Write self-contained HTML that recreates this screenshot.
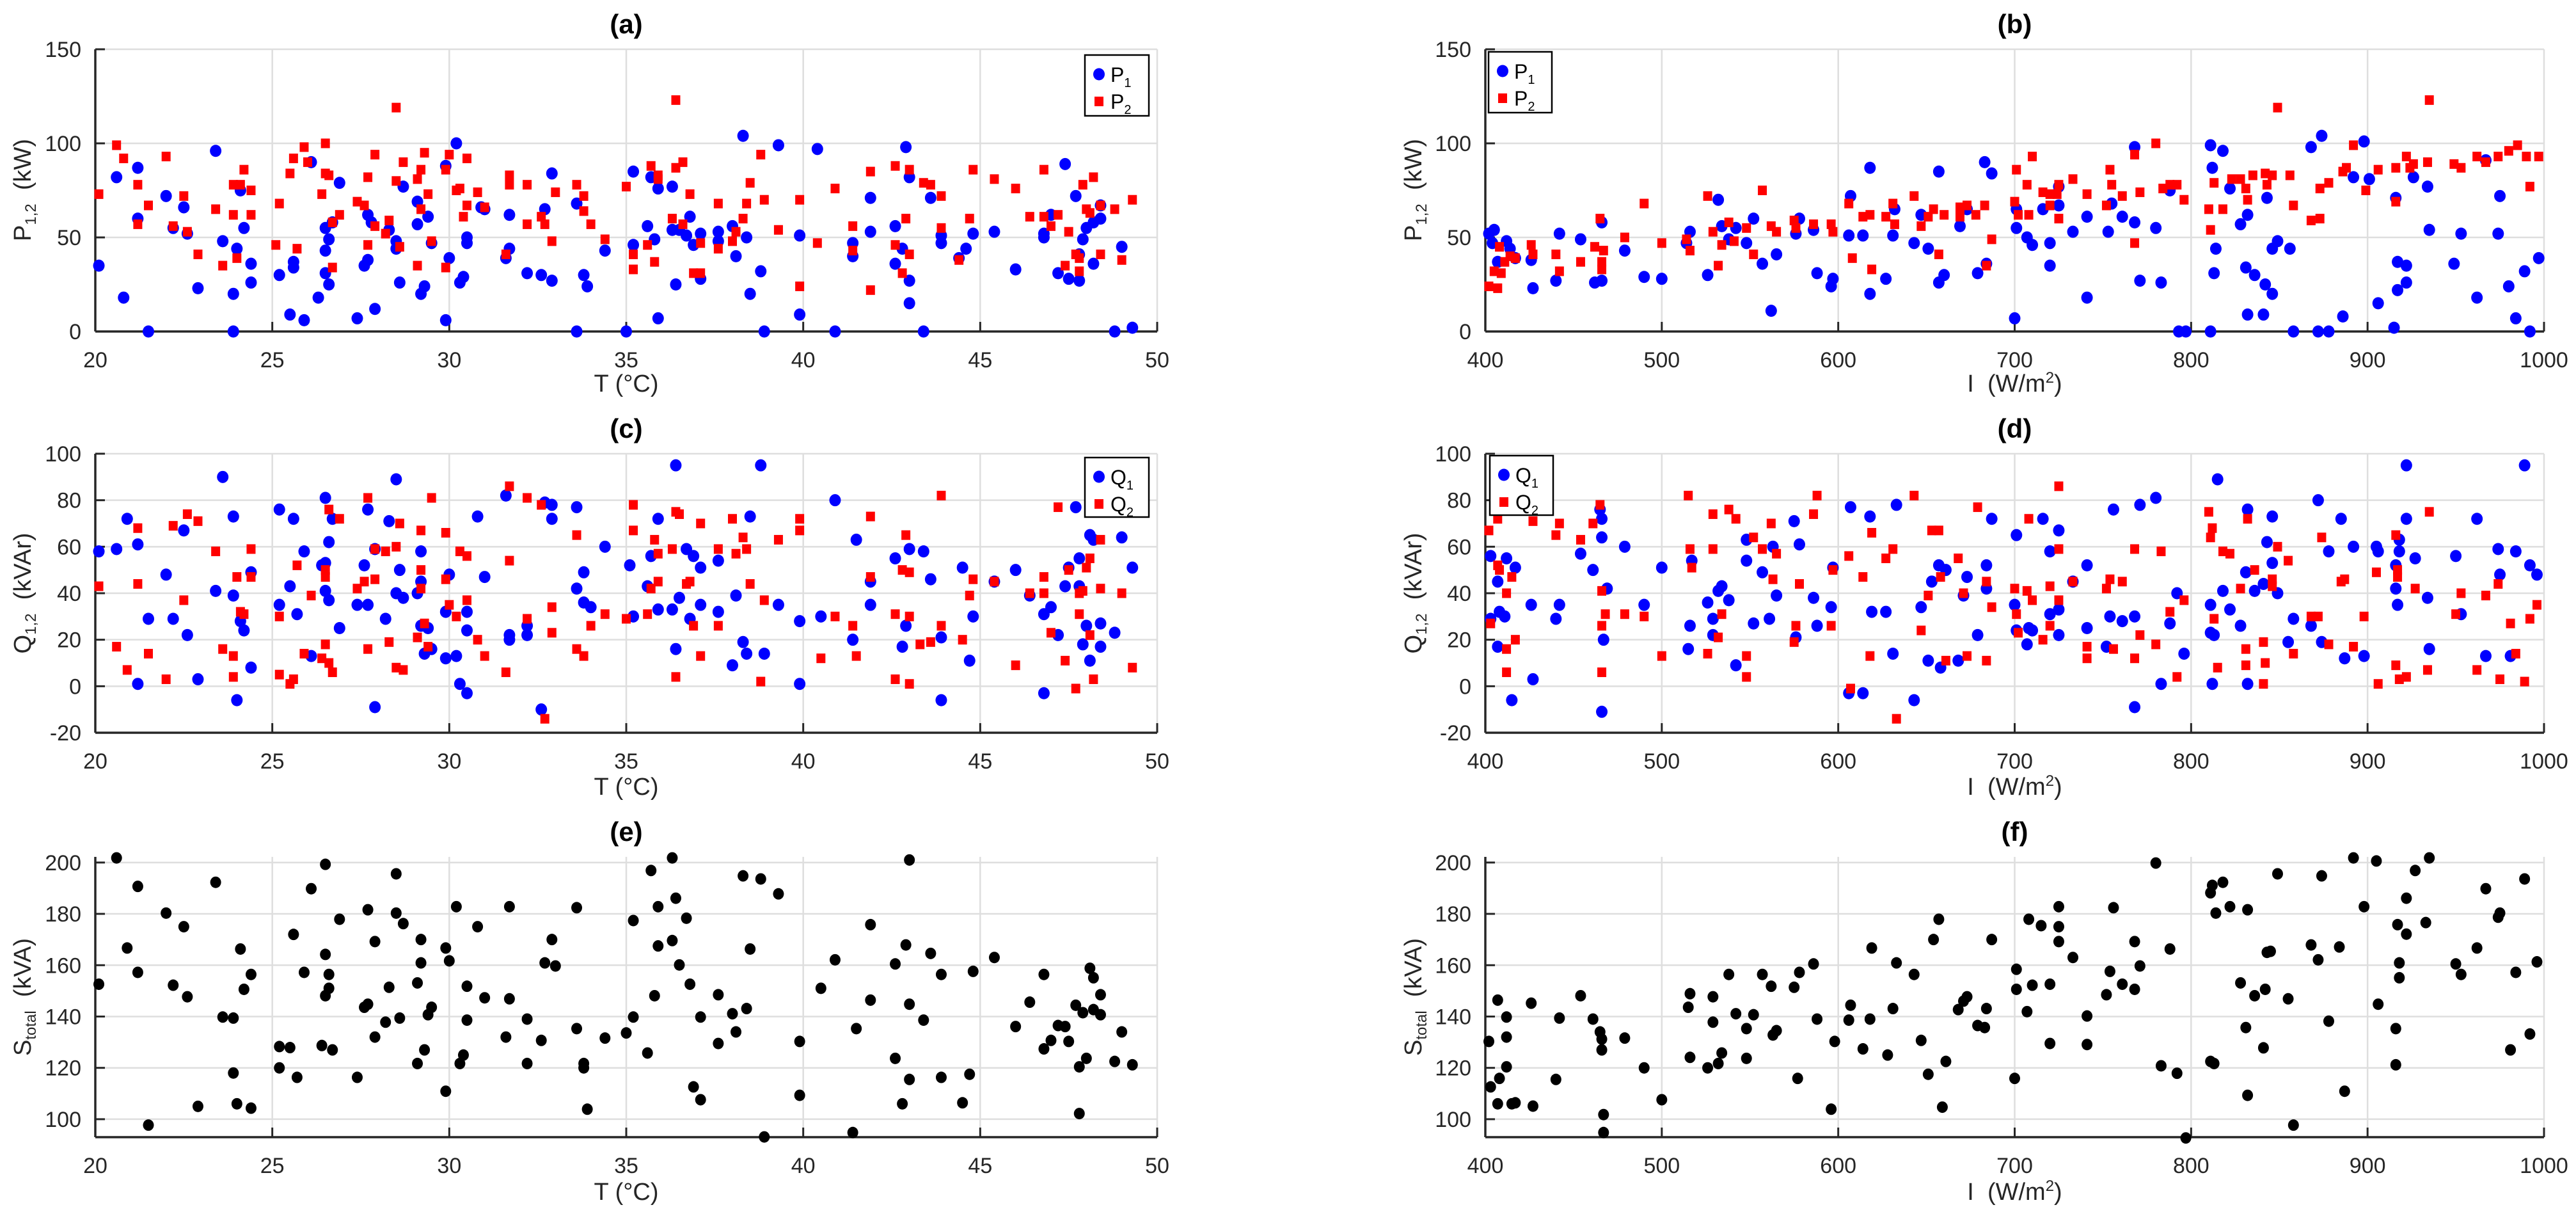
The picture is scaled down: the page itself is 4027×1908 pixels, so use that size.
<!DOCTYPE html>
<html><head><meta charset="utf-8"><style>
html,body{margin:0;padding:0;background:#fff;}
svg{display:block;font-family:"Liberation Sans",sans-serif;}
</style></head><body>
<svg id="fig" width="4027" height="1908" viewBox="0 0 4027 1908" xmlns="http://www.w3.org/2000/svg"></svg>
<script>
// ---- Panel (a): P vs T ----
const aP1T=[20.6,21.2,20.8,20.1,21.5,21.2,22.0,22.2,22.6,22.5,23.4,22.9,23.6,24.0,23.9,24.1,24.2,24.4,24.4,23.9,25.2,25.5,25.9,25.6,25.6,26.1,26.3,26.5,26.5,26.6,26.6,26.5,26.7,26.9,27.4,27.6,27.7,27.7,27.9,27.8,28.3,28.5,28.5,28.6,28.7,29.1,29.1,29.3,29.2,29.4,29.5,29.9,29.9,30.2,30.0,30.3,30.4,30.5,30.5,30.9,31.0,31.7,31.7,31.6,32.2,32.6,32.9,32.7,32.9,33.6,33.6,33.8,33.9,34.4,35.0,35.2,35.2,35.6,35.7,35.8,35.9,35.9,36.3,36.3,36.5,36.7,36.8,36.9,37.1,37.1,36.4,37.6,37.6,38.0,38.1,38.3,38.4,38.5,38.8,38.9,39.3,39.9,39.9,40.4,40.9,41.4,41.4,41.9,41.9,42.6,42.6,42.8,42.9,43.0,43.0,43.0,43.4,43.6,43.9,43.9,44.6,44.4,44.8,45.4,46.0,46.8,46.8,47.0,47.2,47.4,47.5,47.8,47.7,47.8,47.9,48.0,48.2,48.4,48.4,48.2,48.8,49.0,49.3];
const aP1V=[82,87,18,35,0,60,72,55,52,66,96,23,48,44,0,75,55,36,26,20,30,9,6,37,34,90,18,43,55,49,25,31,58,79,7,35,38,62,12,58,54,48,44,26,77,69,57,24,20,61,47,88,6,100,39,26,29,50,47,66,65,62,44,39,31,30,84,65,27,68,0,30,24,43,0,85,46,56,82,49,76,7,77,54,54,51,61,46,28,52,25,53,48,56,40,104,50,20,32,0,99,51,9,97,0,47,40,71,53,56,36,44,98,82,27,15,0,71,51,47,44,39,52,53,33,52,50,62,31,89,28,27,72,41,49,55,58,60,67,36,0,45,2];
const aP2T=[20.1,20.6,20.8,21.2,21.2,21.5,22.0,22.2,22.5,22.6,22.9,23.4,23.6,23.9,23.9,24.0,24.1,24.2,24.4,24.4,25.1,25.2,25.5,25.6,25.7,25.9,26.0,26.4,26.5,26.5,26.6,26.7,26.7,26.9,27.4,27.6,27.7,27.7,27.9,27.9,28.2,28.3,28.5,28.5,28.6,28.7,29.1,29.1,29.2,29.2,29.3,29.4,29.5,29.9,29.9,30.0,30.2,30.3,30.4,30.5,30.5,30.8,31.0,31.6,31.7,31.7,32.2,32.2,32.6,32.7,32.9,33.0,33.6,33.8,33.8,34.0,34.4,35.0,35.2,35.2,35.6,35.7,35.8,35.9,35.9,36.4,36.4,36.6,36.3,36.6,36.8,36.9,37.1,37.1,37.6,37.6,38.0,38.1,38.3,38.4,38.5,38.8,38.9,39.3,39.9,39.9,40.4,40.9,41.4,41.4,41.9,41.9,42.6,42.6,42.8,42.9,43.0,43.0,43.4,43.6,43.9,43.9,44.4,44.7,44.8,45.4,46.0,46.4,46.8,46.8,47.0,47.2,47.4,47.5,47.8,47.7,47.8,47.9,48.0,48.1,48.2,48.4,48.4,48.8,49.0,49.3];
const aP2V=[73,99,92,78,57,67,93,56,72,53,41,65,35,62,78,39,78,86,75,62,46,68,84,92,44,98,90,73,100,84,83,34,58,62,69,67,82,46,94,56,52,59,119,80,45,90,81,35,65,86,95,73,48,34,86,94,75,76,61,92,67,74,66,41,83,78,78,57,61,57,48,74,78,72,64,57,49,77,41,33,46,88,37,83,81,123,87,90,60,57,73,31,31,47,68,44,48,53,60,68,79,94,70,54,70,24,47,76,56,43,85,22,88,46,31,60,41,86,79,78,55,72,38,60,86,81,76,61,61,86,56,62,35,53,32,41,39,78,65,63,82,67,41,65,38,70];
// ---- Panel (b): P vs I ----
const bP1I=[402,405,404,412,414,407,417,426,427,440,442,454,462,466,466,479,490,500,514,516,526,532,534,538,542,548,552,557,562,565,576,578,586,588,596,597,606,607,614,618,618,627,631,632,643,647,651,657,660,657,669,673,679,683,684,687,700,701,701,707,710,716,720,720,725,725,733,741,741,753,755,761,768,768,771,780,783,788,793,797,811,811,812,813,814,818,822,828,831,832,832,836,841,842,843,846,846,849,856,858,868,872,874,878,886,892,898,901,906,915,916,917,917,922,922,926,934,935,949,953,962,967,974,975,980,984,989,992,997];
const bP1V=[52,54,47,48,44,37,39,38,23,27,52,49,26,27,58,43,29,28,47,53,30,70,56,49,55,47,60,36,11,41,52,60,54,31,24,28,51,72,51,20,87,28,51,65,47,62,44,26,30,85,56,65,31,90,36,84,7,55,65,50,46,65,47,35,67,77,53,61,18,53,68,61,58,98,27,55,26,75,0,0,99,0,87,31,44,96,76,57,34,62,9,30,9,25,71,44,20,48,44,0,98,0,104,0,8,82,101,81,15,2,71,22,37,35,26,82,77,54,36,52,18,91,52,72,24,7,32,0,39];
const bP2I=[402,407,405,409,411,408,414,417,426,427,440,442,454,462,465,466,466,467,479,490,500,514,516,526,529,532,534,538,541,548,552,557,562,565,575,576,586,596,597,606,608,614,618,619,627,631,632,643,647,651,654,657,660,669,669,673,678,683,684,687,700,701,702,707,708,710,716,720,720,724,725,725,733,741,752,754,755,761,768,768,771,780,784,788,792,796,810,811,813,818,823,828,831,832,835,842,843,846,849,856,858,868,873,873,878,886,888,892,899,906,916,916,922,924,926,934,935,949,953,962,967,974,980,985,990,992,997];
const bP2V=[24,23,32,31,37,45,40,39,46,41,41,32,37,45,60,33,37,43,50,68,47,49,43,72,53,35,46,58,48,55,41,75,56,53,59,55,57,57,53,68,39,61,62,33,61,68,57,72,56,61,65,41,62,66,61,67,62,67,35,49,69,86,62,78,62,93,74,73,67,73,60,78,81,73,67,86,78,72,94,47,74,100,76,78,78,70,65,54,79,65,81,81,76,70,83,84,78,83,119,83,67,59,60,76,79,85,87,99,75,86,69,87,93,87,89,90,123,89,87,93,90,93,96,99,93,77,93];
// ---- Panel (c): Q vs T ----
const cQ1T=[20.1,20.6,20.9,21.2,21.2,21.5,22.0,22.2,22.5,22.6,22.9,23.4,23.6,23.9,23.9,24.0,24.1,24.2,24.4,24.4,25.2,25.2,25.5,25.6,25.7,25.9,26.1,26.4,26.5,26.5,26.5,26.6,26.6,26.7,26.9,27.4,27.6,27.7,27.7,27.9,27.9,28.2,28.3,28.5,28.5,28.6,28.7,29.1,29.2,29.2,29.2,29.4,29.3,29.5,29.9,29.9,30.0,30.2,30.3,30.5,30.5,30.5,30.8,31.0,31.6,31.7,31.7,32.2,32.2,32.6,32.7,32.9,32.9,33.6,33.6,33.8,33.8,34.0,34.4,35.1,35.2,35.6,35.7,35.9,35.9,36.3,36.4,36.4,36.5,36.7,36.8,36.9,37.1,37.1,37.6,37.6,38.0,38.1,38.3,38.4,38.5,38.8,38.9,39.3,39.9,39.9,40.5,40.9,41.4,41.5,41.9,41.9,42.6,42.8,42.9,43.0,43.4,43.6,43.9,43.9,44.5,44.7,44.8,45.4,46.0,46.4,46.8,46.8,47.0,47.2,47.4,47.5,47.7,47.8,47.8,47.9,48.0,48.1,48.1,48.2,48.4,48.4,48.8,49.0,49.3];
const cQ1V=[58,59,72,61,1,29,48,29,67,22,3,41,90,73,39,-6,28,24,49,8,76,35,43,72,31,58,13,52,81,53,41,62,37,72,25,35,52,35,76,59,-9,29,71,89,40,50,38,40,45,58,26,25,14,16,32,12,48,13,1,32,-3,24,73,47,82,22,20,22,26,-10,79,78,72,77,42,49,36,34,60,52,30,43,56,72,33,33,16,95,38,59,29,56,51,35,54,32,9,39,19,14,73,95,14,35,1,28,30,80,20,63,35,45,55,17,26,59,58,46,21,-6,51,11,30,45,50,39,31,-3,34,22,43,51,77,43,55,18,26,65,11,63,17,27,23,64,51];
const cQ2T=[20.1,20.6,20.9,21.2,21.2,21.5,22.0,22.2,22.5,22.6,22.9,23.4,23.6,23.9,23.9,24.0,24.1,24.2,24.4,24.4,25.2,25.2,25.5,25.6,25.7,25.9,26.1,26.4,26.5,26.5,26.5,26.6,26.6,26.7,26.9,27.4,27.6,27.7,27.7,27.9,27.9,28.2,28.3,28.5,28.5,28.6,28.7,29.1,29.2,29.2,29.2,29.3,29.4,29.5,29.9,29.9,30.0,30.2,30.3,30.5,30.5,30.8,31.0,31.6,31.7,31.7,32.2,32.2,32.6,32.7,32.9,32.9,33.6,33.6,33.8,34.0,34.4,35.0,35.2,35.2,35.6,35.7,35.8,35.9,35.9,36.3,36.4,36.4,36.5,36.7,36.8,36.9,37.1,37.1,37.6,37.6,38.0,38.1,38.3,38.4,38.5,38.8,38.9,39.3,39.9,39.9,40.5,40.9,41.4,41.5,41.9,41.9,42.6,42.6,42.8,42.9,43.0,43.0,43.0,43.3,43.6,43.9,43.9,44.5,44.7,44.8,45.4,46.0,46.4,46.8,46.8,47.0,47.2,47.4,47.5,47.7,47.8,47.8,47.9,48.0,48.1,48.1,48.2,48.4,48.4,49.0,49.3];
const cQ2V=[43,17,7,68,44,14,3,69,37,74,71,58,16,13,4,47,32,31,59,47,5,30,1,3,52,14,39,12,50,47,18,76,10,6,72,42,45,81,16,46,59,58,19,8,60,70,7,21,42,67,50,27,17,81,66,46,35,30,58,56,37,20,13,6,54,86,29,81,78,-14,23,34,16,65,13,26,31,29,78,67,31,42,63,45,57,59,75,4,74,44,45,26,13,70,59,26,72,57,64,59,44,2,37,63,72,67,12,30,26,13,47,73,3,31,50,65,30,49,1,18,19,26,82,20,39,46,45,9,40,40,47,23,77,11,50,-1,31,40,41,51,22,55,3,42,63,40,8];
// ---- Panel (d): Q vs I ----
const dQ1I=[403,407,412,417,408,411,403,407,415,426,427,440,442,454,461,465,466,466,469,467,466,479,490,500,515,516,517,526,529,529,532,534,538,542,548,548,552,557,561,563,565,575,576,578,586,588,596,597,606,607,614,618,619,627,631,633,643,647,651,653,657,658,661,668,671,673,679,684,684,687,700,701,701,707,708,710,716,720,720,725,725,725,733,741,741,752,754,756,761,768,768,771,780,783,788,792,796,811,811,812,813,815,818,822,828,831,832,832,836,841,843,846,846,849,855,858,868,872,874,878,885,887,892,898,905,906,916,916,917,918,918,922,922,927,934,935,950,953,962,967,974,975,981,984,989,992,996];
const dQ1V=[56,45,55,51,32,30,29,17,-6,35,3,29,35,57,50,76,72,64,42,20,-11,60,35,51,16,26,54,36,29,22,41,43,37,9,54,63,27,49,29,60,39,71,21,61,38,26,34,51,-3,77,-3,73,32,32,14,78,-6,34,11,45,52,8,50,11,39,47,22,52,42,72,35,65,24,18,25,24,72,58,31,67,33,22,45,52,25,17,30,76,28,-9,30,78,81,1,27,40,14,35,23,1,22,89,41,33,26,49,76,1,41,44,62,53,73,40,19,29,26,80,19,58,72,12,60,13,60,58,52,42,35,63,58,95,72,55,38,16,56,31,72,13,59,48,13,58,95,52,48];
const dQ2I=[402,403,407,408,407,412,412,412,415,417,427,440,442,454,461,465,466,466,466,468,479,490,500,515,516,517,526,529,529,532,534,538,542,548,548,552,557,562,563,565,575,576,578,586,588,596,597,606,607,614,618,619,627,631,633,643,647,651,653,657,658,661,668,671,673,679,684,684,687,700,701,702,707,708,710,716,720,720,725,725,725,733,741,741,752,754,756,761,768,768,771,780,783,788,792,796,810,812,811,813,815,818,822,828,831,831,832,836,841,842,841,846,846,849,855,858,868,872,874,878,885,887,892,898,905,906,916,916,917,917,918,922,927,934,935,950,953,962,967,974,975,981,984,992,989,996];
const dQ2V=[67,27,52,50,72,40,16,6,47,20,71,65,70,63,70,78,41,26,6,31,31,30,13,82,59,51,14,74,59,21,31,76,72,13,4,64,59,70,46,57,19,26,44,74,82,26,50,56,-1,47,13,66,55,59,-14,82,24,39,67,67,47,11,55,40,13,77,45,11,34,42,31,23,41,72,37,20,43,26,86,59,37,45,17,12,42,46,16,45,59,12,22,18,58,32,4,37,75,68,64,29,8,58,57,42,16,9,72,50,19,10,1,46,43,60,54,14,30,30,64,18,45,46,17,30,49,1,65,9,50,47,3,4,42,7,75,31,40,7,39,44,3,27,14,29,2,35];
// ---- Panel (e): S vs T ----
const eST=[20.6,21.2,20.9,21.2,20.1,22.0,22.5,22.2,22.6,21.5,22.9,23.4,23.6,23.9,23.9,24.0,24.1,24.2,24.4,24.4,25.2,25.2,25.5,25.6,25.7,25.9,26.1,26.4,26.5,26.5,26.5,26.6,26.6,26.7,26.9,27.4,27.6,27.7,27.7,27.9,27.9,28.2,28.3,28.5,28.5,28.6,28.7,29.1,29.2,29.2,29.1,29.3,29.4,29.5,29.9,29.9,30.0,30.2,30.3,30.4,30.5,30.5,30.8,31.0,31.6,31.7,31.7,32.2,32.2,32.6,32.7,32.9,33.0,33.6,33.6,33.8,33.8,33.9,34.4,35.0,35.2,35.2,35.6,35.7,35.8,35.9,35.9,36.3,36.3,36.4,36.5,36.7,36.8,36.9,37.1,37.1,37.6,37.6,38.0,38.1,38.3,38.4,38.5,38.8,38.9,39.3,39.9,39.9,40.5,40.9,41.4,41.5,41.9,41.9,42.6,42.6,42.8,42.9,43.0,43.0,43.0,43.4,43.6,43.9,43.9,44.5,44.7,44.8,45.4,46.0,46.4,46.8,46.8,47.0,47.2,47.4,47.5,47.7,47.8,47.8,47.9,48.0,48.1,48.2,48.2,48.4,48.4,48.8,49.0,49.3];
const eSV=[201.8,190.7,166.7,157.2,152.6,180.3,175,152.2,147.7,97.7,105,192.3,139.8,139.4,118,106,166.3,150.6,156.4,104.3,128.3,120,127.9,172,116.3,157.2,189.8,128.7,199.3,164.2,148.1,156.4,151,127,177.9,116.3,143.6,144.8,181.6,169.2,132,137.8,151.4,195.6,180.3,139.4,176.2,153.1,170,160.9,121.7,127,140.7,143.6,166.7,110.9,161.7,182.8,121.7,125,151.8,138.6,175,147.3,132,182.8,146.9,121.7,139,130.7,160.9,170,159.7,182.4,135.3,121.7,120,103.9,131.6,133.6,177.4,139.8,125.8,196.9,148.1,182.8,167.5,169.6,201.8,186.1,160.1,178.3,152.6,112.6,107.6,139.8,148.5,129.5,141.1,134,194.8,143.1,166.3,193.6,93.1,187.8,109.3,130.3,151,162.1,94.8,135.3,175.8,146.4,160.5,123.7,106,167.9,115.5,201,144.8,138.6,164.6,116.3,156.4,106.4,117.5,157.6,163,136.1,145.6,156.4,127.4,130.7,136.5,136.1,130.3,144.4,120.4,102.2,141.5,123.7,158.8,142.7,155.1,140.7,148.5,122.5,134,121.2];
// ---- Panel (f): S vs I ----
const fSI=[402,403,407,407,408,412,412,412,415,417,426,427,440,442,454,461,465,466,466,467,467,479,490,500,515,516,516,526,529,529,532,534,538,542,548,548,552,557,562,563,565,575,577,578,586,588,596,598,606,607,614,618,619,628,631,633,643,647,651,654,657,659,661,668,671,673,679,683,684,687,700,701,701,707,708,710,715,720,720,725,725,725,733,741,741,752,754,756,761,768,768,771,780,783,788,792,797,811,811,812,813,814,818,822,828,831,832,832,836,841,842,843,845,849,855,858,868,872,874,878,884,887,892,898,905,906,916,916,917,918,918,922,922,927,933,935,950,953,962,967,974,975,981,984,989,992,996];
const fSV=[130.3,112.6,146.4,106,115.9,139.8,132,120.4,106,106.4,145.2,105.1,115.5,139.4,148.1,139,134,131.2,127,101.8,94.8,131.6,120,107.6,143.6,148.9,124.1,120,147.7,137.8,121.7,125.8,156.4,141.1,123.7,135.3,140.7,156.4,151.8,132.8,134.5,151.4,115.9,157.2,160.5,139,103.9,130.3,138.6,144.4,127.4,139,166.7,125,143.1,160.9,156.4,130.7,117.5,170,177.9,104.7,122.5,142.7,146,147.7,136.5,135.7,143.1,170,115.9,150.6,158.4,141.9,177.9,152.2,175.4,152.6,129.5,182.8,175,169.2,163,140.2,129.1,148.5,157.6,182.4,152.6,150.6,169.2,159.7,199.8,120.8,166.3,117.9,92.7,188.2,122.5,191.1,121.7,180.3,192.3,182.8,153.1,135.7,181.6,109.3,148.1,127.8,150.6,165,165.4,195.6,146.9,97.7,167.9,162.1,194.8,138.2,167.1,110.9,201.8,182.8,200.6,144.8,135.3,121.2,175.8,160.9,155.1,186.1,172.1,196.9,176.6,201.8,160.5,156.4,166.7,189.8,178.7,180.3,127,157.2,193.6,133.2,161.3];
// tick label arrays
const tTicks=[20,25,30,35,40,45,50];
const iTicks=[400,500,600,700,800,900,1000];
const pTicks=[0,50,100,150];
const qTicks=[-20,0,20,40,60,80,100];
const sTicks=[100,120,140,160,180,200];

const NS="http://www.w3.org/2000/svg";
const svg=document.getElementById('fig');
function el(tag,attrs,parent){const e=document.createElementNS(NS,tag);for(const k in attrs)e.setAttribute(k,attrs[k]);(parent||svg).appendChild(e);return e;}
const COL_L=[149,1809], COL_R=[2322,3977];
const ROWS={a:[77,518],c:[709,1145],e:[1339,1777]};
function makeAxes(name,px,py,xd,yd,xt,yt){
  const g=el('g',{});
  
  
  const sx=v=>px[0]+(v-xd[0])/(xd[1]-xd[0])*(px[1]-px[0]);
  const sy=v=>py[1]-(v-yd[0])/(yd[1]-yd[0])*(py[1]-py[0]);
  xt.forEach(t=>{const x=sx(t);
    const gl=el('line',{x1:x,x2:x,y1:py[0],y2:py[1],stroke:'#dedede','stroke-width':2.5},g);
    
    el('line',{x1:x,x2:x,y1:py[1],y2:py[1]-15,stroke:'#262626','stroke-width':3},g);
    const tx=el('text',{x:x,y:py[1]+56,'font-size':34,'text-anchor':'middle',fill:'#262626'},g);
    tx.textContent=t;});
  yt.forEach(t=>{const y=sy(t);
    const gl=el('line',{x1:px[0],x2:px[1],y1:y,y2:y,stroke:'#dedede','stroke-width':2.5},g);
    
    el('line',{x1:px[0],x2:px[0]+15,y1:y,y2:y,stroke:'#262626','stroke-width':3},g);
    const tx=el('text',{x:px[0]-22,y:y+12,'font-size':34,'text-anchor':'end',fill:'#262626'},g);
    tx.textContent=t;});
  const ax=el('line',{x1:px[0],x2:px[1],y1:py[1],y2:py[1],stroke:'#262626','stroke-width':3.5},g);
  
  const ay=el('line',{x1:px[0],x2:px[0],y1:py[0],y2:py[1],stroke:'#262626','stroke-width':3.5},g);
  
  return {sx,sy,g};
}
function scatter(ax,xs,ys,kind,name){
  const g=el('g',{});
  
  
  const n=Math.min(xs.length,ys.length);
  for(let i=0;i<n;i++){const x=ax.sx(xs[i]),y=ax.sy(ys[i]);let m;
    if(kind==='blue'){m=el('ellipse',{cx:x,cy:y,rx:9,ry:9.5,fill:'#0000ff'},g);}
    else if(kind==='red'){m=el('rect',{x:x-7,y:y-7.5,width:14,height:15,fill:'#ff0000'},g);}
    else {m=el('ellipse',{cx:x,cy:y,rx:8.5,ry:9,fill:'#000'},g);}
    
    }
}
function title(txt,cx,y,name){const t=el('text',{x:cx,y:y,'font-size':42,'font-weight':'bold','text-anchor':'middle',fill:'#000'});t.textContent=txt;}
function xlabel(html,cx,y,name){const t=el('text',{x:cx,y:y,'font-size':38,'text-anchor':'middle',fill:'#262626'});t.innerHTML=html;}
function ylabel(html,x,cy,name){const t=el('text',{x:0,y:0,'font-size':38,'text-anchor':'middle',fill:'#262626',transform:`translate(${x},${cy}) rotate(-90)`});t.innerHTML=html;}
function legend(x,y,w,h,l1,l2,name){
  const g=el('g',{});
  
  
  el('rect',{x:x,y:y,width:w,height:h,fill:'#fff',stroke:'#000','stroke-width':2.5},g);
  el('ellipse',{cx:x+22,cy:y+30,rx:9,ry:9.5,fill:'#0000ff'},g);
  el('rect',{x:x+15,y:y+65,width:14,height:15,fill:'#ff0000'},g);
  const t1=el('text',{x:x+40,y:y+42,'font-size':32,fill:'#000'},g);t1.innerHTML=l1[0]+'<tspan font-size="20" dy="8">'+l1[1]+'</tspan>';
  
  const t2=el('text',{x:x+40,y:y+84,'font-size':32,fill:'#000'},g);t2.innerHTML=l2[0]+'<tspan font-size="20" dy="8">'+l2[1]+'</tspan>';
  
}
const sub=(a,b,c)=>a+'<tspan font-size="24" dy="8">'+b+'</tspan><tspan dy="-8">&#160;&#160;'+c+'</tspan>';
const midL=(COL_L[0]+COL_L[1])/2, midR=(COL_R[0]+COL_R[1])/2;
const iLab='I&#160;&#160;(W/m<tspan font-size="24" dy="-14">2</tspan><tspan dy="14">)</tspan>';

// (a)
const axA=makeAxes('panel-a',COL_L,ROWS.a,[20,50],[0,150],tTicks,pTicks);
scatter(axA,aP1T,aP1V,'blue','p1-series-a');scatter(axA,aP2T,aP2V,'red','p2-series-a');
legend(1696,86,100,95,['P','1'],['P','2'],'legend-a');
title('(a)',midL,52,'title-a');xlabel('T (°C)',midL,612,'x-axis-title-a');ylabel(sub('P','1,2','(kW)'),48,297,'y-axis-title-a');
// (b)
const axB=makeAxes('panel-b',COL_R,ROWS.a,[400,1000],[0,150],iTicks,pTicks);
scatter(axB,bP1I,bP1V,'blue','p1-series-b');scatter(axB,bP2I,bP2V,'red','p2-series-b');
legend(2327,81,99,95,['P','1'],['P','2'],'legend-b');
title('(b)',midR,52,'title-b');xlabel(iLab,midR,612,'x-axis-title-b');ylabel(sub('P','1,2','(kW)'),2222,297,'y-axis-title-b');
// (c)
const axC=makeAxes('panel-c',COL_L,ROWS.c,[20,50],[-20,100],tTicks,qTicks);
scatter(axC,cQ1T,cQ1V,'blue','q1-series-c');scatter(axC,cQ2T,cQ2V,'red','q2-series-c');
legend(1696,715,100,93,['Q','1'],['Q','2'],'legend-c');
title('(c)',midL,684,'title-c');xlabel('T (°C)',midL,1242,'x-axis-title-c');ylabel(sub('Q','1,2','(kVAr)'),48,927,'y-axis-title-c');
// (d)
const axD=makeAxes('panel-d',COL_R,ROWS.c,[400,1000],[-20,100],iTicks,qTicks);
scatter(axD,dQ1I,dQ1V,'blue','q1-series-d');scatter(axD,dQ2I,dQ2V,'red','q2-series-d');
legend(2329,712,99,93,['Q','1'],['Q','2'],'legend-d');
title('(d)',midR,684,'title-d');xlabel(iLab,midR,1242,'x-axis-title-d');ylabel(sub('Q','1,2','(kVAr)'),2222,927,'y-axis-title-d');
// (e)
const axE=makeAxes('panel-e',COL_L,ROWS.e,[20,50],[93,202.2],tTicks,sTicks);
scatter(axE,eST,eSV,'black','s-total-series-e');
title('(e)',midL,1314,'title-e');xlabel('T (°C)',midL,1875,'x-axis-title-e');ylabel(sub('S','total','(kVA)'),48,1558,'y-axis-title-e');
// (f)
const axF=makeAxes('panel-f',COL_R,ROWS.e,[400,1000],[93,202.2],iTicks,sTicks);
scatter(axF,fSI,fSV,'black','s-total-series-f');
title('(f)',midR,1314,'title-f');xlabel(iLab,midR,1875,'x-axis-title-f');ylabel(sub('S','total','(kVA)'),2222,1558,'y-axis-title-f');
</script>
</body></html>
